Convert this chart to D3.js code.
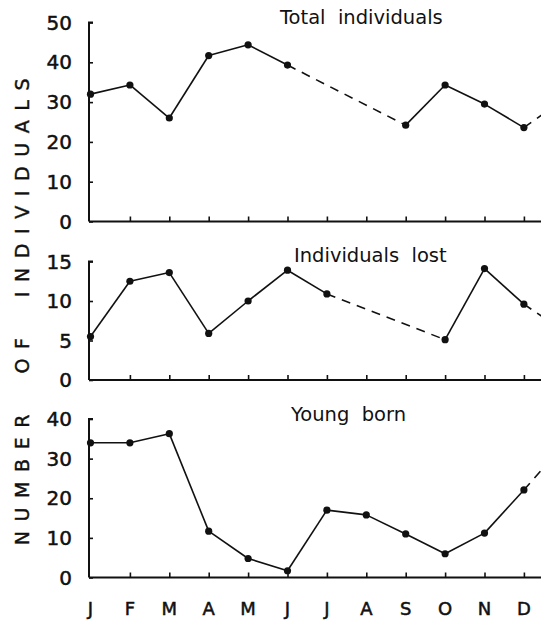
<!DOCTYPE html>
<html>
<head>
<meta charset="utf-8">
<script src="https://cdn.jsdelivr.net/npm/d3@7"></script>
<style>
  html, body { margin: 0; padding: 0; background: #fff; }
  svg { display: block; }
  text { fill: #111; }
</style>
</head>
<body>
<svg id="chart" width="541" height="621"></svg>
<script>
// Month initials along the shared x axis
const months = ["J", "F", "M", "A", "M", "J", "J", "A", "S", "O", "N", "D"];

// Monthly counts (null = no observation that month)
const totalIndividuals = [32, 34.3, 26, 41.7, 44.4, 39.3, null, null, 24.2, 34.3, 29.5, 23.6];
const individualsLost  = [5.5, 12.5, 13.6, 5.9, 10, 13.9, 10.9, null, null, 5.1, 14.1, 9.6];
const youngBorn        = [34, 34, 36.3, 11.7, 4.8, 1.7, 17, 15.8, 11, 6, 11.2, 22.1];

// Value for the following January, where each series carries on
const nextJanuary = [30.6, 6.2, 33.4];

// Tick values per panel
const totalTicks = [0, 10, 20, 30, 40, 50];
const lostTicks  = [0, 5, 10, 15];
const youngTicks = [0, 10, 20, 30, 40];

const titles = ["Total  individuals", "Individuals  lost", "Young  born"];

const svg = d3.select("#chart");
const W = 541;
const axisX = 89;

// Shared month scale; index 12 is the next January, beyond the right edge
const x = d3.scaleLinear().domain([0, 12]).range([90.5, 90.5 + 12 * 39.4]);

svg.append("defs").append("clipPath").attr("id", "plotClip")
  .append("rect").attr("x", 0).attr("y", 0).attr("width", W).attr("height", 621);

const panels = [
  { values: totalIndividuals, next: nextJanuary[0], ticks: totalTicks, domain: [0, 50], range: [221.5, 22.5], title: titles[0], tx: 280, ty: 24 },
  { values: individualsLost,  next: nextJanuary[1], ticks: lostTicks,  domain: [0, 15], range: [380, 261.5], title: titles[1], tx: 294, ty: 262 },
  { values: youngBorn,        next: nextJanuary[2], ticks: youngTicks, domain: [0, 40], range: [577.5, 419], title: titles[2], tx: 291, ty: 421 }
];

const font = "'DejaVu Sans', sans-serif";

panels.forEach(p => {
  const y = d3.scaleLinear().domain(p.domain).range(p.range);
  const g = svg.append("g");

  // y axis: line with short inward ticks
  const yAxis = d3.axisRight(y).tickValues(p.ticks).tickSize(4).tickFormat("");
  const ya = g.append("g").attr("transform", `translate(${axisX},0)`).call(yAxis);
  ya.select(".domain").attr("d", `M4,${p.range[1]}H0V${p.range[0]}`)
    .attr("stroke", "#111").attr("stroke-width", 2).attr("fill", "none");
  ya.selectAll(".tick line").attr("stroke", "#111").attr("stroke-width", 1.6);

  // y tick labels
  g.selectAll(".ylab").data(p.ticks).enter().append("text")
    .attr("x", 72).attr("y", d => y(d))
    .attr("text-anchor", "end").attr("dominant-baseline", "central")
    .attr("font-family", font).attr("font-size", 20)
    .attr("stroke", "#111").attr("stroke-width", 0.5)
    .text(d => d);

  // x axis with upward ticks at each month
  const xAxis = d3.axisTop(x).tickValues(d3.range(1, 12)).tickSize(5).tickFormat("");
  const xa = g.append("g").attr("transform", `translate(0,${p.range[0]})`).call(xAxis);
  xa.select(".domain").attr("d", `M${axisX},0H${W}`)
    .attr("stroke", "#111").attr("stroke-width", 2).attr("fill", "none");
  xa.selectAll(".tick line").attr("stroke", "#111").attr("stroke-width", 1.6);

  // Build segments: solid between consecutive months, dashed across gaps
  const pts = p.values.map((v, i) => ({ i, v })).filter(d => d.v !== null);
  const solid = [], dashed = [];
  for (let k = 0; k < pts.length - 1; k++) {
    const a = pts[k], b = pts[k + 1];
    (b.i - a.i === 1 ? solid : dashed).push([a, b]);
  }
  dashed.push([pts[pts.length - 1], { i: 12, v: p.next }]);

  const line = d3.line().x(d => x(d.i)).y(d => y(d.v));
  const lines = g.append("g").attr("clip-path", "url(#plotClip)");
  lines.selectAll(".solid").data(solid).enter().append("path")
    .attr("d", line).attr("fill", "none").attr("stroke", "#111").attr("stroke-width", 1.6);
  lines.selectAll(".dashed").data(dashed).enter().append("path")
    .attr("d", line).attr("fill", "none").attr("stroke", "#111").attr("stroke-width", 1.6)
    .attr("stroke-dasharray", "9,7");

  g.selectAll(".dot").data(pts).enter().append("circle")
    .attr("cx", d => x(d.i)).attr("cy", d => y(d.v)).attr("r", 3.6).attr("fill", "#111");

  // Panel title
  g.append("text").attr("x", p.tx).attr("y", p.ty)
    .attr("font-family", font).attr("font-size", 19.5)
    .style("white-space", "pre")
    .text(p.title);
});

// Month labels under the bottom panel
svg.selectAll(".mlab").data(months).enter().append("text")
  .attr("x", (d, i) => x(i)).attr("y", 608)
  .attr("text-anchor", "middle").attr("dominant-baseline", "central")
  .attr("font-family", font).attr("font-size", 18)
  .attr("stroke", "#111").attr("stroke-width", 0.5)
  .text(d => d);

// Shared y-axis title, rotated and letter-spaced
svg.append("text")
  .attr("transform", "translate(29,307) rotate(-90)")
  .attr("text-anchor", "middle")
  .attr("font-family", font).attr("font-size", 19)
  .attr("stroke", "#111").attr("stroke-width", 0.4)
  .attr("letter-spacing", 9.6)
  .style("white-space", "pre")
  .text("NUMBER  OF  INDIVIDUALS");
</script>
</body>
</html>
